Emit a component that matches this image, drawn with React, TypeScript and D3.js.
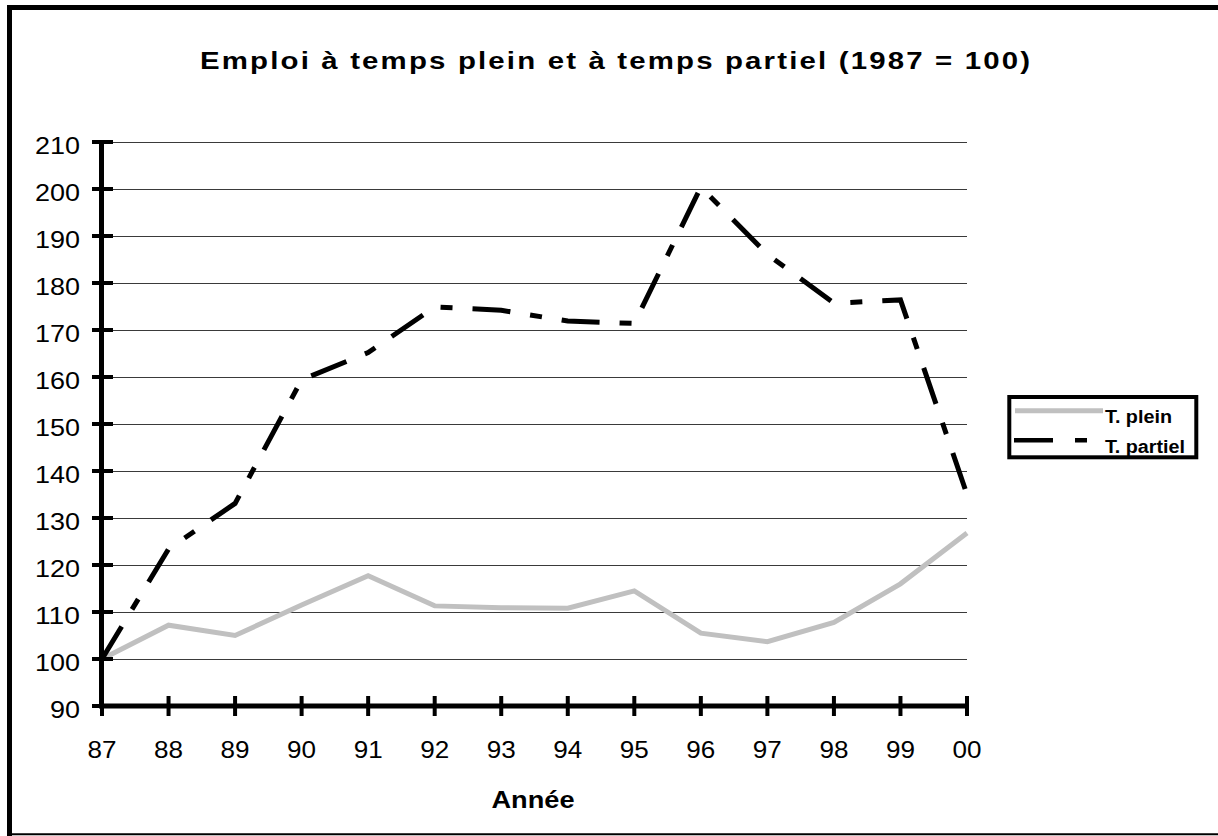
import React from 'react';
import * as d3 from 'd3';

const years = ['87', '88', '89', '90', '91', '92', '93', '94', '95', '96', '97', '98', '99', '00'];
const plein = [100, 107.2, 105, 111.5, 117.7, 111.3, 110.9, 110.8, 114.5, 105.5, 103.7, 107.8, 116, 126.8];
const partiel = [100, 123.4, 133.1, 159.4, 165.2, 174.9, 174.2, 171.9, 171.4, 200.4, 186.1, 175.7, 176.4, 135];
const yTicks = [90, 100, 110, 120, 130, 140, 150, 160, 170, 180, 190, 200, 210];

const W = 1218;
const H = 836;
const font = '"Liberation Sans", Arial, sans-serif';
const dash = '38 20 12 20';
// the source picture is a little stretched sideways
const sx = 1.2;

export default function App() {
  const x = d3.scalePoint<string>().domain(years).range([102, 967]);
  const y = d3.scaleLinear().domain([90, 210]).range([706, 142]);

  const line = d3
    .line<number>()
    .x((_, i) => x(years[i]))
    .y((d) => y(d));

  return (
    <svg
      width={W}
      height={H}
      style={{ position: 'absolute', left: 0, top: 0, background: '#fff' }}
      fontFamily={font}
    >
      {/* outer frame */}
      <path d={`M9.5,${H} L9.5,7.5 L${W + 5},7.5`} fill="none" stroke="#000" strokeWidth={5} />
      <line x1={9.5} x2={W + 5} y1={834.3} y2={834.3} stroke="#000" strokeWidth={2} />

      <text
        transform={`translate(615,68.5) scale(${sx},1)`}
        textAnchor="middle"
        fontSize={24.5}
        fontWeight="bold"
        textLength={830 / sx}
      >
        Emploi à temps plein et à temps partiel (1987 = 100)
      </text>

      {/* grid */}
      {yTicks.slice(1).map((t) => (
        <line
          key={t}
          x1={102}
          x2={967}
          y1={Math.round(y(t)) + 0.5}
          y2={Math.round(y(t)) + 0.5}
          stroke="#3a3a3a"
          strokeWidth={1}
        />
      ))}

      {/* series */}
      <path
        d={line(plein)}
        fill="none"
        stroke="#c0c0c0"
        strokeWidth={5}
        strokeLinejoin="miter"
      />
      <path
        d={line(partiel)}
        fill="none"
        stroke="#000"
        strokeWidth={5}
        strokeDasharray={dash}
        strokeLinejoin="miter"
      />

      {/* y axis */}
      <line x1={101.5} x2={101.5} y1={y(210) - 2} y2={y(90) + 2} stroke="#000" strokeWidth={5} />
      {yTicks.map((t) => (
        <g key={t}>
          <line x1={92} x2={113} y1={y(t)} y2={y(t)} stroke="#000" strokeWidth={4} />
          <text
            x={80}
            y={y(t) + 12}
            textAnchor="end"
            fontSize={24}
            textLength={String(t).length === 3 ? 45 : 30}
            lengthAdjust="spacingAndGlyphs"
          >
            {t}
          </text>
        </g>
      ))}

      {/* x axis */}
      <line x1={99} x2={969} y1={y(90)} y2={y(90)} stroke="#000" strokeWidth={5} />
      {years.map((yr) => (
        <g key={yr}>
          <line x1={x(yr)} x2={x(yr)} y1={y(90) - 10} y2={y(90) + 10} stroke="#000" strokeWidth={4} />
          <text
            x={x(yr)}
            y={758}
            textAnchor="middle"
            fontSize={24.5}
            textLength={29}
            lengthAdjust="spacingAndGlyphs"
          >
            {yr}
          </text>
        </g>
      ))}
      <text
        x={533}
        y={808}
        textAnchor="middle"
        fontSize={24}
        fontWeight="bold"
        textLength={83}
        lengthAdjust="spacingAndGlyphs"
      >
        Année
      </text>

      {/* legend */}
      <rect x={1009.3} y={397} width={187} height={60.3} fill="#fff" stroke="#000" strokeWidth={4} />
      <line x1={1015} x2={1103} y1={410.7} y2={410.7} stroke="#c0c0c0" strokeWidth={5} />
      <text
        x={1105}
        y={423.3}
        fontSize={18}
        fontWeight="bold"
        textLength={67}
        lengthAdjust="spacingAndGlyphs"
      >
        T. plein
      </text>
      <line
        x1={1014}
        x2={1100}
        y1={440.3}
        y2={440.3}
        stroke="#000"
        strokeWidth={4.5}
        strokeDasharray="39 22 12 22"
      />
      <text
        x={1105}
        y={452.7}
        fontSize={18}
        fontWeight="bold"
        textLength={80}
        lengthAdjust="spacingAndGlyphs"
      >
        T. partiel
      </text>
    </svg>
  );
}
